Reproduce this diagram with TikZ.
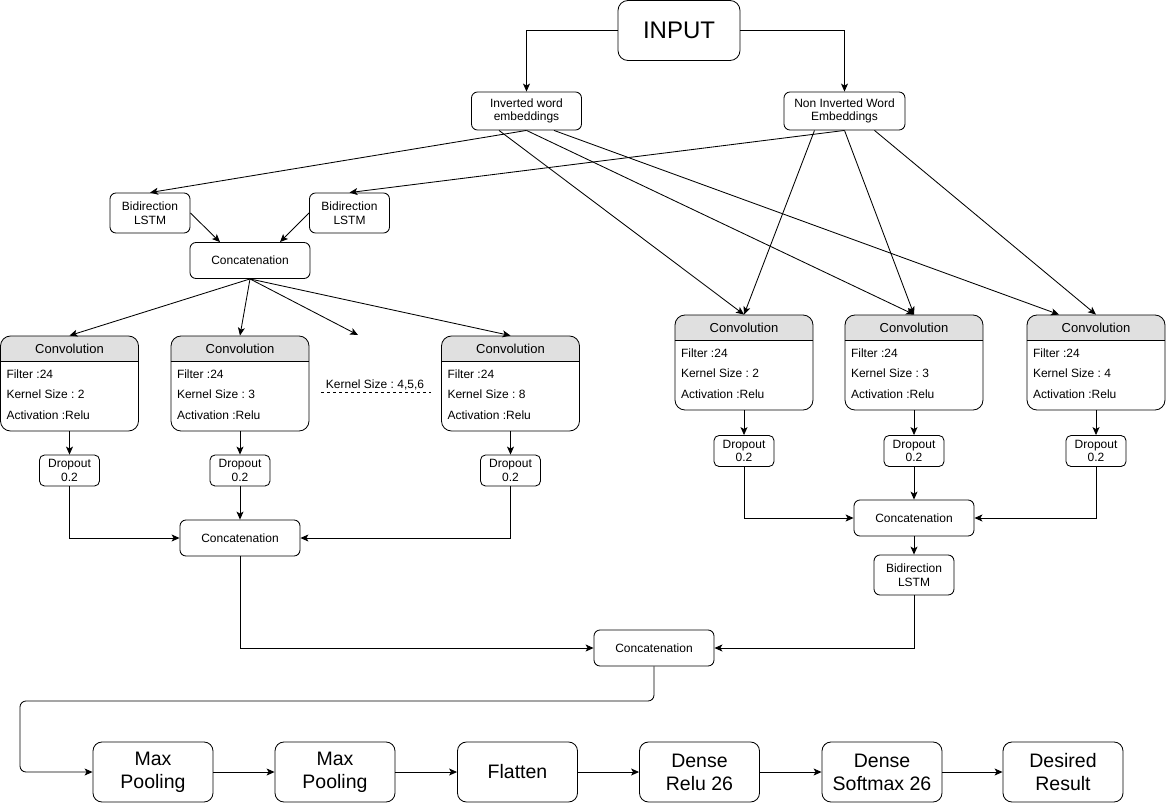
\documentclass[tikz,border=0pt]{standalone}
\usepackage{fontspec}
\setmainfont{Liberation Sans}
\usepackage{tikz}
\usetikzlibrary{arrows.meta}
\frenchspacing

\definecolor{convhead}{HTML}{E0E0E0}

\tikzset{
  arr/.style={-{Stealth[length=8pt,width=7pt,inset=2pt]}},
  blk/.style={draw, rounded corners=6pt, align=center, inner sep=2pt, font=\fontsize{12}{13.5}\selectfont},
  bigblk/.style={draw, rounded corners=9pt, align=center, minimum width=120pt, minimum height=60pt, font=\fontsize{19.5}{23}\selectfont},
  dropbox/.style={blk, rounded corners=5pt, minimum width=60pt, minimum height=31pt},
  lstmbox/.style={blk, minimum width=80pt, minimum height=40pt},
  catbox/.style={blk, minimum width=120pt, minimum height=36pt},
  lbl/.style={inner sep=0pt, font=\fontsize{12}{13.5}\selectfont},
  convbox/.style={draw, rounded corners=10pt, minimum width=138pt, minimum height=95pt,
    path picture={\fill[convhead, sharp corners] (path picture bounding box.north west) rectangle ([yshift=-26pt]path picture bounding box.north east);}},
}

\newcommand{\convblock}[4]{%
  \node[convbox] (#1) at (#2,#3) {};
  \draw ([yshift=-26pt]#1.north west) -- ([yshift=-26pt]#1.north east);
  \node[lbl, font=\fontsize{13}{15}\selectfont] at ([yshift=-13pt]#1.north) {Convolution};
  \node[lbl, anchor=west] at ([xshift=6pt,yshift=-39pt]#1.north west) {Filter :24};
  \node[lbl, anchor=west] at ([xshift=6pt,yshift=-59pt]#1.north west) {Kernel Size : #4};
  \node[lbl, anchor=west] at ([xshift=6pt,yshift=-80pt]#1.north west) {Activation :Relu};
}

\begin{document}
\begin{tikzpicture}[x=1pt, y=-1pt, line width=0.85pt]
    \useasboundingbox (0,0) rectangle (1166,803);

    \node[bigblk, minimum width=122pt, rounded corners=10pt, font=\fontsize{24}{28}\selectfont] (input) at (679,30.5) {INPUT};
    \node[blk, minimum width=110pt, minimum height=38pt] (inv) at (526.5,111) {Inverted word\\embeddings};
    \node[blk, minimum width=121pt, minimum height=38pt] (noninv) at (844.5,111) {Non Inverted Word\\Embeddings};

    \node[lstmbox] (lstmA) at (150,213) {Bidirection\\LSTM};
    \node[lstmbox] (lstmB) at (349.5,213) {Bidirection\\LSTM};
    \node[catbox] (catA) at (250,260.5) {Concatenation};

    \convblock{convA}{69.5}{383.5}{2}
    \convblock{convB}{240}{383.5}{3}
    \convblock{convC}{510.5}{383.5}{8}
    \node[lbl] (ksize) at (375,385) {Kernel Size : 4,5,6};
    \draw[dashed, line width=0.7pt] (321,392) -- (431,392);
    \coordinate (kdots) at (358,335);

    \convblock{convD}{744}{362.5}{2}
    \convblock{convE}{914}{362.5}{3}
    \convblock{convF}{1096}{362.5}{4}

    \node[dropbox] (dropA) at (69.5,470.5) {Dropout\\0.2};
    \node[dropbox] (dropB) at (240,470.5) {Dropout\\0.2};
    \node[dropbox] (dropC) at (510.5,470.5) {Dropout\\0.2};
    \node[dropbox] (dropD) at (744,451) {Dropout\\0.2};
    \node[dropbox] (dropE) at (914,451) {Dropout\\0.2};
    \node[dropbox] (dropF) at (1096,451) {Dropout\\0.2};

    \node[catbox] (catB) at (240,538) {Concatenation};
    \node[catbox] (catC) at (914,518) {Concatenation};
    \node[lstmbox] (lstmC) at (914,575) {Bidirection\\LSTM};
    \node[catbox] (catD) at (654,648) {Concatenation};

    \node[bigblk] (pool1) at (153,772) {Max\\Pooling};
    \node[bigblk] (pool2) at (335,772) {Max\\Pooling};
    \node[bigblk] (flat) at (517.5,772) {Flatten};
    \node[bigblk] (dense1) at (699.5,772) {Dense\\Relu 26};
    \node[bigblk] (dense2) at (882,772) {Dense\\Softmax 26};
    \node[bigblk] (result) at (1063,772) {Desired\\Result};

    \draw[arr] (input.west) -| (inv.north);
    \draw[arr] (input.east) -| (noninv.north);
    \draw[arr] (inv.south) -- (lstmA.north);
    \draw[arr] (noninv.south) -- (lstmB.north);
    \draw[arr] ([xshift=-27.5pt]inv.south) -- (convD.north);
    \draw[arr] (inv.south) -- (convE.north);
    \draw[arr] ([xshift=27.5pt]inv.south) -- ([xshift=-37pt]convF.north);
    \draw[arr] ([xshift=-30pt]noninv.south) -- (convD.north);
    \draw[arr] (noninv.south) -- (convE.north);
    \draw[arr] ([xshift=30pt]noninv.south) -- (convF.north);

    \draw[arr] (lstmA.east) -- ([xshift=-30pt]catA.north);
    \draw[arr] (lstmB.west) -- ([xshift=30pt]catA.north);
    \draw[arr] (catA.south) -- (convA.north);
    \draw[arr] (catA.south) -- (convB.north);
    \draw[arr] (catA.south) -- (kdots);
    \draw[arr] (catA.south) -- (convC.north);

    \foreach \c/\d in {convA/dropA, convB/dropB, convC/dropC, convD/dropD, convE/dropE, convF/dropF}
        \draw[arr] (\c.south) -- (\d.north);

    \draw[arr] (dropA.south) |- (catB.west);
    \draw[arr] (dropB.south) -- (catB.north);
    \draw[arr] (dropC.south) |- (catB.east);
    \draw[arr] (dropD.south) |- (catC.west);
    \draw[arr] (dropE.south) -- (catC.north);
    \draw[arr] (dropF.south) |- (catC.east);
    \draw[arr] (catC.south) -- (lstmC.north);
    \draw[arr] (catB.south) |- (catD.west);
    \draw[arr] (lstmC.south) |- (catD.east);

    \draw[arr, rounded corners=6pt] (catD.south) |- (20,701) |- (pool1.west);
    \foreach \a/\b in {pool1/pool2, pool2/flat, flat/dense1, dense1/dense2, dense2/result}
        \draw[arr] (\a.east) -- (\b.west);
\end{tikzpicture}
\end{document}
